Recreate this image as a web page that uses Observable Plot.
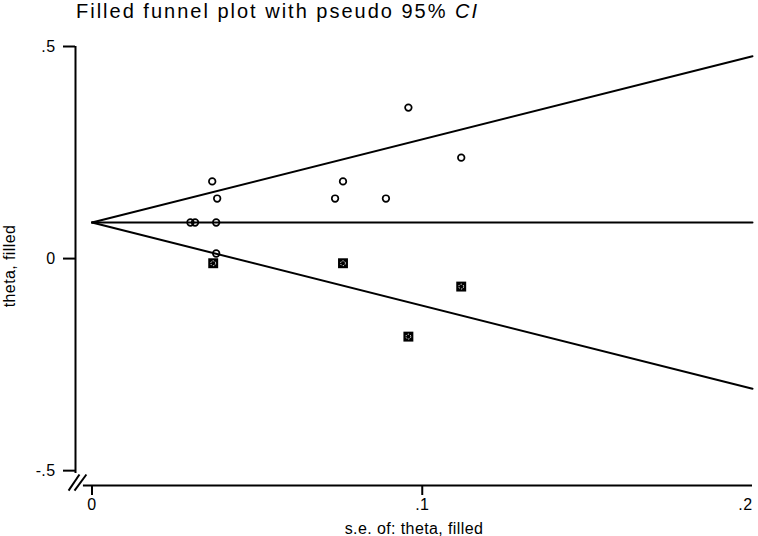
<!DOCTYPE html>
<html><head><meta charset="utf-8">
<script src="https://cdn.jsdelivr.net/npm/d3@7"></script>
<script src="https://cdn.jsdelivr.net/npm/@observablehq/plot@0.6"></script>
<style>
body{margin:0;background:#fff;font-family:"Liberation Sans",Arial,sans-serif;}
#title{height:30px;line-height:22px;font-size:20px;letter-spacing:2px;padding-left:76px;color:#000;white-space:nowrap;}
#chart svg{display:block;}
#chart svg text{letter-spacing:0.4px;}
</style></head><body>
<div id="title">Filled funnel plot with pseudo 95% <i>CI</i></div>
<div id="chart"></div>
<script>
// observed studies (hollow circles)
const observedSE    = [0.0364, 0.0379, 0.0376, 0.0298, 0.0312, 0.0376, 0.0958, 0.1118, 0.0760, 0.0736, 0.0890];
const observedTheta = [0.182,  0.1415, 0.085,  0.085,  0.085,  0.012,  0.356,  0.238,  0.182,  0.1415, 0.1415];
// filled (imputed) studies (squares)
const filledSE    = [0.0367, 0.0760, 0.1118, 0.0958];
const filledTheta = [-0.011, -0.011, -0.066, -0.184];
// pooled estimate and funnel extent
const thetaPooled = 0.085;
const seRange = [0, 0.2];
// axes
const xTicks = [0, 0.1];
const xTickLabels = ["0", ".1"];
const xEndTick = [0.2];
const xEndTickLabel = ".2";
const yTicks = [-0.5, 0, 0.5];
const yTickLabels = ["-.5", "0", ".5"];
const xTitle = "s.e. of: theta, filled";
const yTitle = "theta, filled";

const observed = observedSE.map((s, i) => ({se: s, theta: observedTheta[i]}));
const filled = filledSE.map((s, i) => ({se: s, theta: filledTheta[i]}));
const funnel = seRange.map(s => ({se: s, lo: thetaPooled - 1.96 * s, hi: thetaPooled + 1.96 * s, mid: thetaPooled}));
const xDomain = [-0.005, 0.2];
const yDomain = [-0.535, 0.5];
const breaks = [
  {x1: -0.0071, y1: -0.547, x2: -0.0038, y2: -0.509},
  {x1: -0.0053, y1: -0.547, x2: -0.0017, y2: -0.509}
];

const plot = Plot.plot({
  width: 758, height: 506,
  marginTop: 16, marginBottom: 51, marginLeft: 75, marginRight: 6,
  style: {fontFamily: "Liberation Sans, Arial, sans-serif", fontSize: "16px", color: "#000", background: "#fff"},
  x: {domain: xDomain},
  y: {domain: yDomain},
  marks: [
    Plot.axisX({ticks: xTicks, tickFormat: d => xTickLabels[xTicks.indexOf(d)], tickSize: 10, tickPadding: 3,
      strokeWidth: 2, fontSize: 16, label: xTitle, labelAnchor: "center", labelArrow: "none"}),
    Plot.axisX({ticks: xEndTick, tickFormat: () => xEndTickLabel, tickSize: 0, tickPadding: 13,
      textAnchor: "end", fontSize: 16, label: null}),
    Plot.axisY({ticks: yTicks, tickFormat: d => yTickLabels[yTicks.indexOf(d)], tickSize: 12, tickPadding: 8,
      strokeWidth: 2, fontSize: 16, label: yTitle, labelAnchor: "center", labelArrow: "none"}),
    Plot.ruleX([xDomain[0]], {y1: yDomain[1], y2: -0.507, strokeWidth: 2}),
    Plot.ruleY([yDomain[0]], {x1: -0.0026, x2: xDomain[1], strokeWidth: 2}),
    Plot.link(breaks, {x1: "x1", y1: "y1", x2: "x2", y2: "y2", strokeWidth: 2}),
    Plot.line(funnel, {x: "se", y: "hi", strokeWidth: 2}),
    Plot.line(funnel, {x: "se", y: "lo", strokeWidth: 2}),
    Plot.line(funnel, {x: "se", y: "mid", strokeWidth: 2}),
    Plot.dot(observed, {x: "se", y: "theta", r: 3.3, stroke: "#000", strokeWidth: 1.7, fill: "none"}),
    Plot.dot(filled, {x: "se", y: "theta", symbol: "square", r: 5.6, fill: "#000", stroke: "none"}),
    Plot.dot(filled, {x: "se", y: "theta", r: 2.4, stroke: "#fff", strokeWidth: 1, strokeDasharray: "1.2,1.2", fill: "none"})
  ]
});
document.getElementById("chart").appendChild(plot);
</script>
</body></html>
